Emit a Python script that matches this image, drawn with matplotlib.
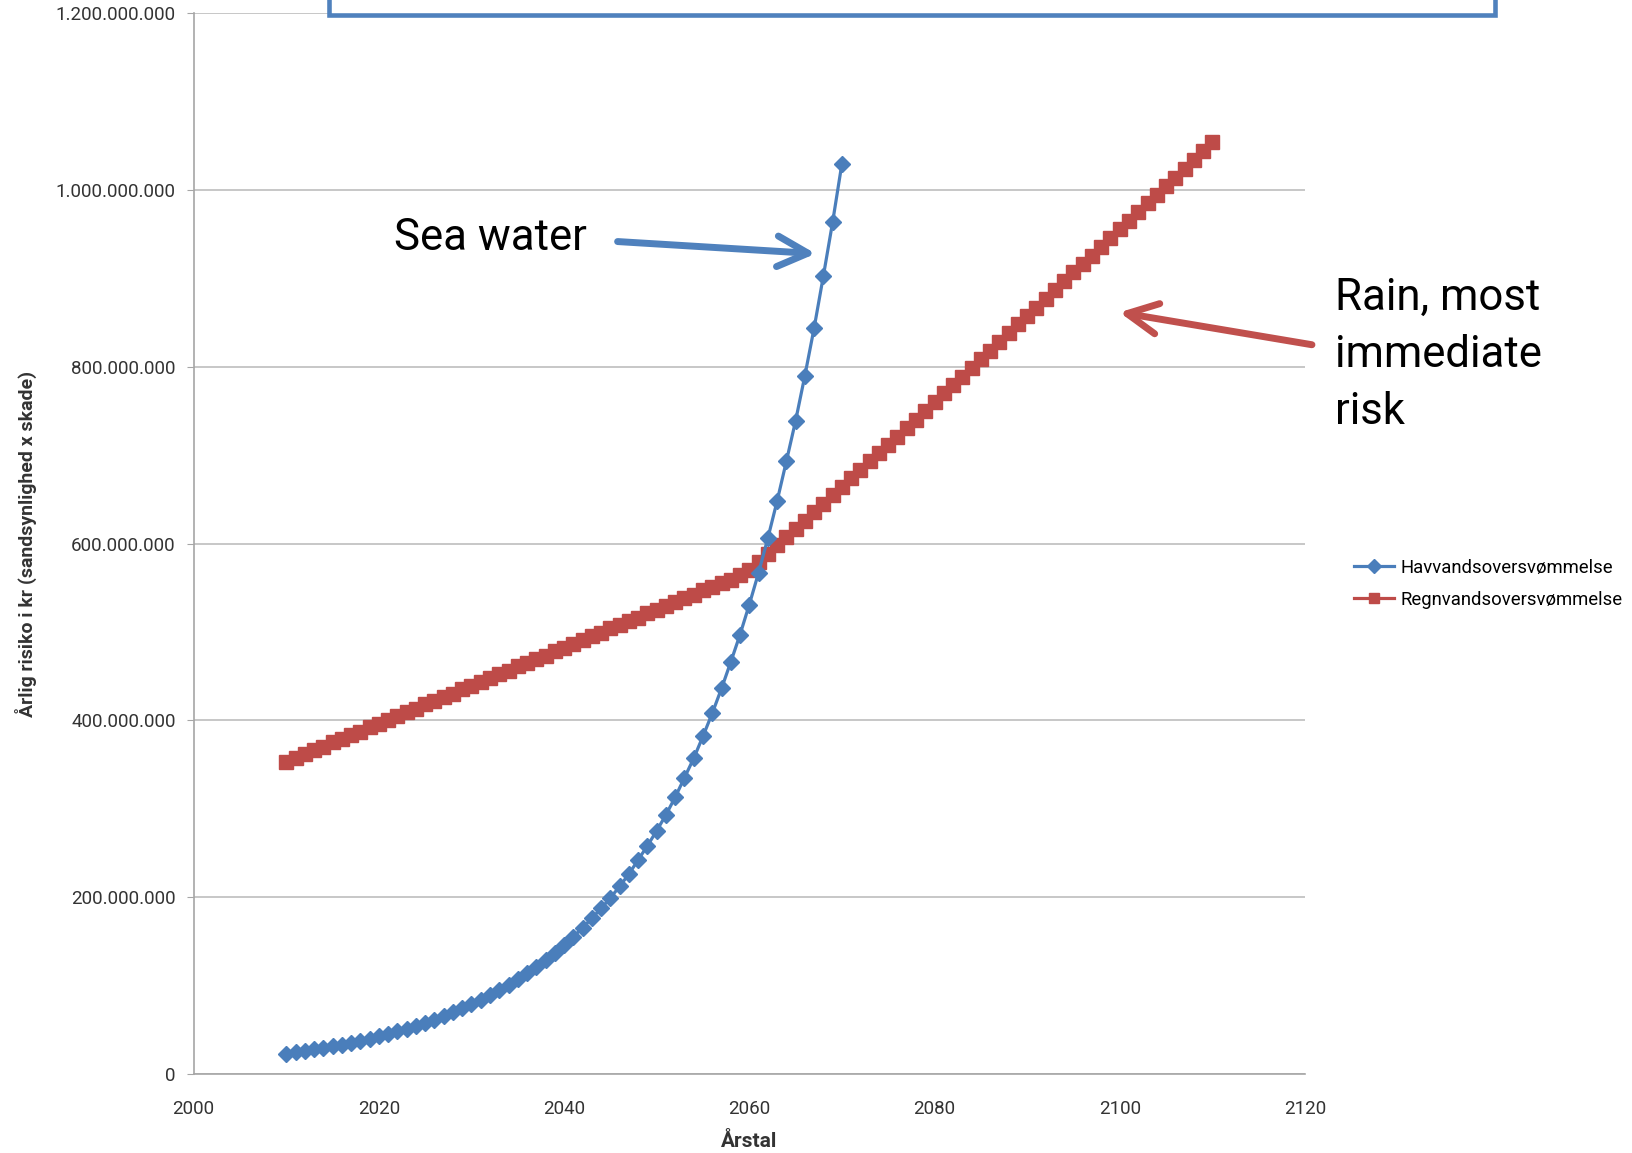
import matplotlib
matplotlib.use("Agg")
import matplotlib.pyplot as plt
import matplotlib.patches as mpatches
from matplotlib.ticker import FuncFormatter

# data (values in millions of kr)
sea_years = list(range(2010, 2071))
sea_risk = [22.7, 24.2, 25.7, 27.4, 29.1, 31.0, 33.0, 35.1, 37.3, 39.7,
            42.2, 44.9, 47.8, 50.9, 54.1, 57.6, 61.3, 65.2, 69.3, 73.8,
            78.5, 83.5, 88.8, 94.5, 100.5, 107, 114, 121, 129, 137,
            146, 155, 165, 176, 187, 199, 212, 226, 242, 258,
            275, 293, 313, 335, 357, 382, 408, 436, 466, 497,
            531, 567, 606, 648, 693, 739, 790, 844, 903, 964, 1030]

rain_years = list(range(2010, 2111))
rain_risk = [353, 357, 362, 366, 370, 375, 379, 383, 387, 392,
             396, 400, 405, 409, 413, 418, 422, 426, 430, 435,
             439, 443, 448, 452, 456, 461, 465, 469, 473, 478,
             482, 486, 491, 495, 499, 504, 508, 512, 516, 521,
             525, 529, 534, 538, 542, 547, 551, 555, 559, 564,
             570, 579, 588, 598, 607, 617, 626, 636, 645, 655,
             664, 674, 683, 693, 702, 712, 721, 731, 740, 750,
             760, 770, 779, 789, 799, 809, 818, 828, 838, 848,
             858, 867, 877, 887, 897, 907, 916, 926, 936, 946,
             956, 965, 975, 985, 995, 1005, 1014, 1024, 1034, 1044,
             1054]

labels = ["Havvandsoversvømmelse", "Regnvandsoversvømmelse"]
blue = "#4A7EBB"
red = "#BE4B48"

plt.rcParams['font.family'] = ['Roboto', 'DejaVu Sans']

fig = plt.figure(figsize=(16.33, 11.53), dpi=100)
ax = fig.add_axes([0.1186, 0.0688, 0.6805, 0.9195])

ax.plot(sea_years, [v * 1e6 for v in sea_risk], color=blue, lw=2.3,
        marker="D", markersize=8.5, label=labels[0], zorder=3)
ax.plot(rain_years, [v * 1e6 for v in rain_risk], color=red, lw=2.3,
        marker="s", markersize=9.5, label=labels[1], zorder=2)

ax.set_xlim(2000, 2120)
ax.set_ylim(0, 1.2e9)
ax.set_xticks(range(2000, 2121, 20))
ax.set_yticks([i * 2e8 for i in range(7)])
ax.yaxis.set_major_formatter(FuncFormatter(lambda v, p: format(int(round(v)), ",").replace(",", ".")))
ax.grid(axis="y", color="#BEBEBE", lw=1.2)
ax.set_axisbelow(True)
for s in ["top", "right"]:
    ax.spines[s].set_visible(False)
for s in ["left", "bottom"]:
    ax.spines[s].set_color("#A6A6A6")
    ax.spines[s].set_linewidth(1.2)
ax.tick_params(axis="y", length=5, color="#A6A6A6", pad=8, labelsize=13.5, labelcolor="#333333")
ax.tick_params(axis="x", length=0, pad=19, labelsize=13.5, labelcolor="#333333")

ax.set_xlabel("Årstal", fontsize=15, fontweight="bold", labelpad=10, color="#333333")
ax.set_ylabel("Årlig risiko i kr (sandsynlighed x skade)", fontsize=14, fontweight="bold",
              labelpad=13, color="#333333")

ax.legend(loc="center left", bbox_to_anchor=(1.044, 0.462), frameon=False, fontsize=13.3,
          handlelength=2.2, handletextpad=0.3, labelspacing=0.75, borderpad=0, borderaxespad=0,
          markerscale=0.8)

# annotations
fig.text(0.2413, 0.7832, "Sea water", fontsize=31.5, va="baseline", ha="left")
ax.annotate("", xy=(0.4995, 0.7800), xycoords="figure fraction",
            xytext=(0.3782, 0.7905), textcoords="figure fraction",
            arrowprops=dict(arrowstyle="->,head_length=1.1,head_width=0.55", color="#4F81BD",
                            lw=5, shrinkA=0, shrinkB=0, mutation_scale=20))

for line, yb in zip(["Rain, most", "immediate", "risk"], [310, 367, 424]):
    fig.text(1335 / 1633, 1 - yb / 1153, line, fontsize=31.5, va="baseline", ha="left")
ax.annotate("", xy=(0.6855, 0.7291), xycoords="figure fraction",
            xytext=(0.8034, 0.7010), textcoords="figure fraction",
            arrowprops=dict(arrowstyle="->,head_length=1.1,head_width=0.55", color="#C0504D",
                            lw=5, shrinkA=0, shrinkB=0, mutation_scale=20))

# title box cut off at the top of the picture
box = mpatches.Rectangle((329 / 1633, 1 - 15 / 1153), (1495 - 329) / 1633, 0.05,
                         transform=fig.transFigure, facecolor="white", edgecolor="#4F81BD",
                         lw=3.3, zorder=10, clip_on=False)
fig.add_artist(box)

fig.savefig("out.png", dpi=100)
